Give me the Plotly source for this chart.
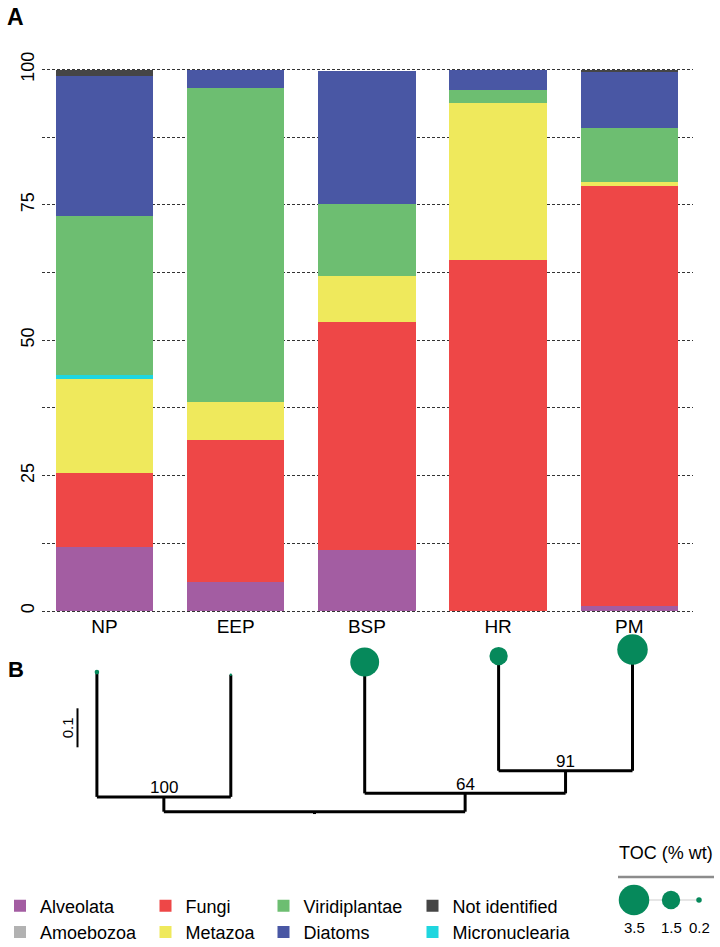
import plotly.graph_objects as go

# ----- Panel A: composition (% of reads) per site -----
sites = ['NP', 'EEP', 'BSP', 'HR', 'PM']
alveolata = [11.8, 5.4, 11.3, 0.0, 0.9]
amoebozoa = [0.0, 0.0, 0.0, 0.0, 0.0]
fungi = [13.7, 26.2, 42.1, 64.8, 77.5]
metazoa = [17.3, 7.0, 8.5, 29.0, 0.8]
micronuclearia = [0.7, 0.0, 0.0, 0.0, 0.0]
viridiplantae = [29.5, 57.9, 13.2, 2.4, 10.0]
diatoms = [25.8, 3.5, 24.6, 3.8, 10.4]
not_identified = [1.2, 0.0, 0.0, 0.0, 0.4]
y_ticks = [0, 25, 50, 75, 100]

# ----- Panel B: clustering tree + TOC -----
toc = [0.15, 0.05, 3.2, 1.5, 3.5]  # % wt, same order as sites
tree_clades = [  # (clade, children, bootstrap)
    ('c100', ('NP', 'EEP'), 100),
    ('c91', ('HR', 'PM'), 91),
    ('c64', ('BSP', 'c91'), 64),
    ('root', ('c100', 'c64'), None),
]
branch_lengths = {'NP': 0.320, 'EEP': 0.313, 'c100': 0.038, 'BSP': 0.337,
                  'c91': 0.058, 'HR': 0.294, 'PM': 0.311, 'c64': 0.047}
scale_bar_length = 0.1
toc_key_values = [3.5, 1.5, 0.2]

W, H = 720, 947
FONT = 'Liberation Sans, Arial, Helvetica, sans-serif'
TOC_GREEN = '#06895B'


def px_x(p):
    return p / W


def px_y(p):
    return 1 - p / H


def toc_diameter(value):
    return 30.5 * (value / 3.5) ** 0.6


fig = go.Figure()

# ----- Stacked bars -----
series = [
    ('Alveolata', alveolata, '#A35DA2', 'legend', 1),
    ('Amoebozoa', amoebozoa, '#B2B2B2', 'legend', 2),
    ('Fungi', fungi, '#EE4747', 'legend2', 1),
    ('Metazoa', metazoa, '#EFE95C', 'legend2', 2),
    ('Micronuclearia', micronuclearia, '#1FD6DF', 'legend4', 2),
    ('Viridiplantae', viridiplantae, '#6DBE71', 'legend3', 1),
    ('Diatoms', diatoms, '#4957A4', 'legend3', 2),
    ('Not identified', not_identified, '#454545', 'legend4', 1),
]
for name, values, color, legend, rank in series:
    fig.add_trace(go.Bar(
        x=sites, y=values, name=name, marker_color=color, marker_line_width=0,
        legend=legend, legendrank=rank, hoverinfo='name+y'
    ))

# ----- Tree -----
depth = {'root': 0.0}
for clade, children, _ in reversed(tree_clades):
    for child in children:
        depth[child] = depth[clade] + branch_lengths[child]

pos = {site: i for i, site in enumerate(sites)}
for clade, children, _ in tree_clades:
    pos[clade] = sum(pos[c] for c in children) / len(children)

line_x, line_y = [], []
for clade, (a, b), _ in tree_clades:
    y = depth[clade]
    line_x += [pos[a], pos[a], None, pos[a], pos[b], None, pos[b], pos[b], None]
    line_y += [depth[a], y, None, y, y, None, y, depth[b], None]
line_x += [pos['root'], pos['root']]
line_y += [0, -0.006]

fig.add_trace(go.Scatter(
    x=line_x, y=line_y, xaxis='x2', yaxis='y2', mode='lines',
    line=dict(color='black', width=3), showlegend=False, hoverinfo='skip'
))
fig.add_trace(go.Scatter(
    x=[pos[s] for s in sites], y=[depth[s] for s in sites], xaxis='x2', yaxis='y2',
    mode='markers',
    marker=dict(color=TOC_GREEN, opacity=1, size=[toc_diameter(v) for v in toc], line_width=0),
    text=sites, customdata=toc, hovertemplate='%{text}: TOC %{customdata}%<extra></extra>',
    showlegend=False, cliponaxis=False
))

for clade, _, bootstrap in tree_clades:
    if bootstrap is not None:
        fig.add_annotation(
            x=pos[clade], y=depth[clade], xref='x2', yref='y2', text=str(bootstrap),
            showarrow=False, yshift=9, font=dict(size=17, color='black', family=FONT)
        )

# scale bar
LEAF0_PX, LEAF_PITCH_PX = 96.9, 133.9
ROOT_PX, PX_PER_UNIT = 811.7, 390.0
bar_x = (77.5 - LEAF0_PX) / LEAF_PITCH_PX
bar_y0 = (ROOT_PX - 747.3) / PX_PER_UNIT
fig.add_trace(go.Scatter(
    x=[bar_x, bar_x], y=[bar_y0, bar_y0 + scale_bar_length], xaxis='x2', yaxis='y2',
    mode='lines', line=dict(color='black', width=2), showlegend=False, hoverinfo='skip'
))
fig.add_annotation(
    x=bar_x, y=bar_y0 + scale_bar_length / 2, xref='x2', yref='y2', text=str(scale_bar_length),
    showarrow=False, textangle=-90, xshift=-10, font=dict(size=15, color='black', family=FONT)
)

# ----- TOC size key (pixel space) -----
key_x = [634, 671, 699]
key_y = 900
fig.add_trace(go.Scatter(
    x=key_x, y=[key_y] * 3, xaxis='x3', yaxis='y3', mode='lines+markers',
    line=dict(color='#E6E6E6', width=2),
    marker=dict(color=TOC_GREEN, opacity=1, size=[toc_diameter(v) for v in toc_key_values],
                line_width=0),
    showlegend=False, hoverinfo='skip', cliponaxis=False
))
for x, v in zip(key_x, toc_key_values):
    fig.add_annotation(x=x, y=927, xref='x3', yref='y3', text=str(v), showarrow=False,
                       font=dict(size=15, color='black', family=FONT))
fig.add_annotation(x=665.5, y=853, xref='x3', yref='y3', text='TOC (% wt)', showarrow=False,
                   font=dict(size=18, color='black', family=FONT))
fig.add_shape(type='line', xref='x3', yref='y3', x0=618, x1=714, y0=877, y1=877,
              line=dict(color='#8C8C8C', width=2.5))

# ----- Panel letters -----
fig.add_annotation(x=px_x(15.5), y=px_y(16.7), xref='paper', yref='paper', text='<b>A</b>',
                   xanchor='center', yanchor='middle', showarrow=False,
                   font=dict(size=23, color='black', family=FONT))
fig.add_annotation(x=px_x(15.5), y=px_y(669), xref='paper', yref='paper', text='<b>B</b>',
                   xanchor='center', yanchor='middle', showarrow=False,
                   font=dict(size=22, color='black', family=FONT))

# ----- Axes -----
BAR0_PX, BAR_PITCH_PX = 104.5, 131.2
GRID_L, GRID_R = 42, 693.3
x_r0 = -(BAR0_PX - GRID_L) / BAR_PITCH_PX
x_r1 = x_r0 + (GRID_R - GRID_L) / BAR_PITCH_PX

# y: 0 at 611px, 100 at 69.5px; pad the range so the 0/100 gridlines are not clipped
Y0_PX, Y100_PX, Y_PAD = 611, 69.5, 0.4
y_px_per_unit = (Y0_PX - Y100_PX) / 100
grid = dict(showgrid=True, gridcolor='#333333', gridwidth=1, griddash='3px,2px')

legend_base = dict(orientation='v', yanchor='middle', y=px_y(919), xanchor='left',
                   font=dict(size=18, color='black', family=FONT), bgcolor='rgba(0,0,0,0)',
                   traceorder='normal', tracegroupgap=0, itemclick=False, itemdoubleclick=False)

fig.update_layout(
    width=W, height=H,
    margin=dict(l=0, r=0, t=0, b=0, autoexpand=False),
    paper_bgcolor='white', plot_bgcolor='rgba(0,0,0,0)',
    font=dict(family=FONT, color='black'),
    barmode='stack', bargap=1 - 97.5 / BAR_PITCH_PX,
    xaxis=dict(domain=[px_x(GRID_L), px_x(GRID_R)], range=[x_r0, x_r1], showgrid=False,
               showline=False, zeroline=False, ticks='', tickfont=dict(size=19, color='black'),
               automargin=False, fixedrange=True),
    yaxis=dict(domain=[px_y(Y0_PX + Y_PAD * y_px_per_unit), px_y(Y100_PX - Y_PAD * y_px_per_unit)],
               range=[-Y_PAD, 100 + Y_PAD], tickvals=y_ticks, tickangle=-90,
               tickfont=dict(size=18, color='black'), ticks='', ticklabelstandoff=3,
               zeroline=False, showline=False,
               minor=dict(dtick=12.5, tick0=0, **grid), automargin=False, fixedrange=True, **grid),
    xaxis2=dict(domain=[0, 1], range=[-LEAF0_PX / LEAF_PITCH_PX, (W - LEAF0_PX) / LEAF_PITCH_PX],
                anchor='y2', visible=False, fixedrange=True),
    yaxis2=dict(domain=[0, px_y(625)],
                range=[(ROOT_PX - H) / PX_PER_UNIT, (ROOT_PX - 625) / PX_PER_UNIT],
                anchor='x2', visible=False, fixedrange=True),
    xaxis3=dict(domain=[0, 1], range=[0, W], anchor='y3', visible=False, fixedrange=True),
    yaxis3=dict(domain=[0, 1], range=[H, 0], anchor='x3', visible=False, fixedrange=True),
    legend=dict(legend_base, x=px_x(0)),
    legend2=dict(legend_base, x=px_x(145.5)),
    legend3=dict(legend_base, x=px_x(263.5)),
    legend4=dict(legend_base, x=px_x(412.5)),
)

# drop the browser's default 8px body margin so the figure sits at the page origin
fig.write_html("out.html", config={'displayModeBar': False},
               post_script="document.body.style.margin = '0';")
